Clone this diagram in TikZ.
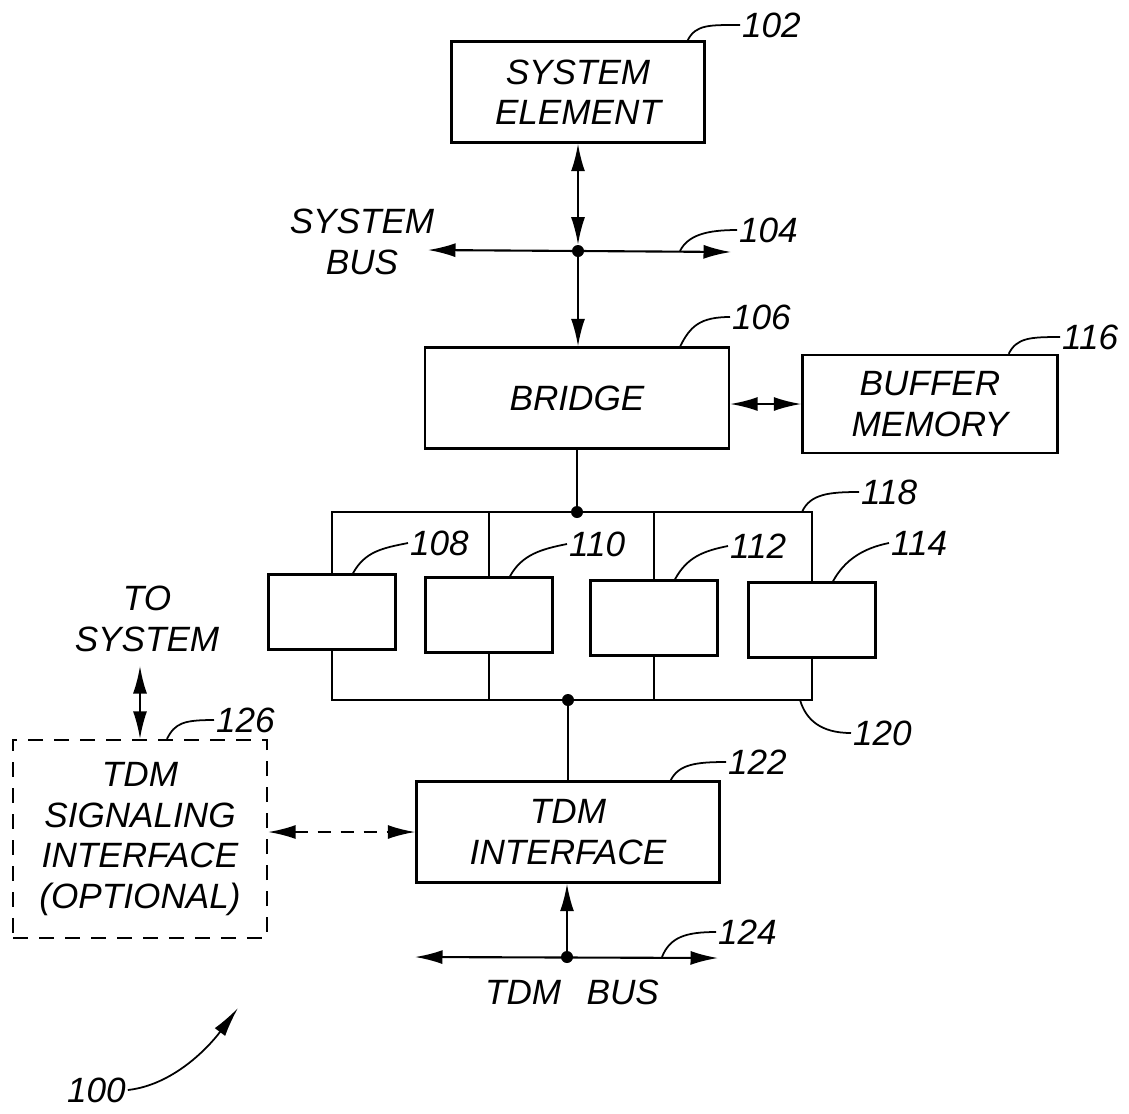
\documentclass[tikz,border=0pt]{standalone}
\usepackage{fontspec}
\setmainfont{Liberation Sans}
\usetikzlibrary{arrows.meta}

\tikzset{
  tip/.tip={Latex[length=5.5mm,width=2.8mm]},
  block/.style={draw,line width=1.4pt,inner sep=0pt,align=center},
  unitbox/.style={block,minimum width=2.54cm,minimum height=1.5cm},
  optbox/.style={draw,line width=1.3pt,dash pattern=on 3mm off 2.2mm,inner sep=0pt,align=center,
    minimum width=5.08cm,minimum height=3.96cm},
  refnum/.style={inner sep=1pt,anchor=west},
  wire/.style={line width=1.2pt},
  twoway/.style={wire,tip-tip},
  lead/.style={line width=1pt},
  joint/.style={circle,fill,inner sep=0pt,minimum size=0.24cm}
}

\begin{document}
\begin{tikzpicture}[x=0.02cm,y=-0.02cm,font=\itshape\fontsize{20}{23}\selectfont]
\useasboundingbox (0,0) rectangle (1129,1113);

% blocks
\node[block,minimum width=5.06cm,minimum height=2.02cm] (sysel) at (578,92) {SYSTEM\\ELEMENT};
\node[block,minimum width=6.08cm,minimum height=2.02cm] (bridge) at (577,398) {BRIDGE};
\node[block,minimum width=5.1cm,minimum height=1.96cm] (buffer) at (930,404) {BUFFER\\MEMORY};
\node[unitbox] (u108) at (332,612) {};
\node[unitbox] (u110) at (489,615) {};
\node[unitbox] (u112) at (654,618) {};
\node[unitbox] (u114) at (812,620) {};
\node[block,minimum width=6.06cm,minimum height=2.02cm] (tdmif) at (568,832) {TDM\\INTERFACE};
\node[optbox] (tdmsig) at (140,839) {TDM\\SIGNALING\\INTERFACE\\(OPTIONAL)};
\node[align=center,inner xsep=0pt,inner ysep=0.28cm] (tosys) at (147,619) {TO\\SYSTEM};

% system bus
\coordinate (sbusL) at (428,250);
\coordinate (sbusR) at (731,252);
\node[joint] (sdot) at (578,251) {};
\draw[twoway] (sbusL) -- (sbusR);
\draw[twoway] (sysel.south) -- (sdot);
\draw[wire,-tip] (sdot) -- (bridge.north -| sdot);
\node[align=center,inner sep=0pt] (sbuslbl) at (362,242) {SYSTEM\\BUS};

\draw[twoway] (bridge.east |- buffer.west) -- (buffer.west);

% buses 118 / 120
\node[joint] (d118) at (577,512) {};
\node[joint] (d120) at (568,700) {};
\draw[wire] (bridge.south) -- (d118.center);
\draw[wire] (u108.north) -- (u108.north |- d118) -- (u114.north |- d118) -- (u114.north);
\draw[wire] (u110.north) -- (u110.north |- d118);
\draw[wire] (u112.north) -- (u112.north |- d118);
\draw[wire] (u108.south) -- (u108.south |- d120) -- (u114.south |- d120) -- (u114.south);
\draw[wire] (u110.south) -- (u110.south |- d120);
\draw[wire] (u112.south) -- (u112.south |- d120);
\draw[wire] (d120.center) -- (tdmif.north -| d120);
\coordinate (c118) at (u114.north |- d118);
\coordinate (c120) at (u114.south |- d120);

% tdm bus
\coordinate (tbusL) at (415,957);
\coordinate (tbusR) at (718,958);
\node[joint] (d124) at (567,957) {};
\draw[twoway] (tbusL) -- (tbusR);
\draw[wire,-tip] (d124) -- (tdmif.south -| d124);
\node[inner sep=0pt] (tbuslbl) at (572,992) {TDM\;\, BUS};

% optional signaling interface
\draw[wire,dash pattern=on 2.6mm off 2mm,tip-tip] (tdmsig.east |- tdmif.west) -- (tdmif.west);
\draw[twoway] (tdmsig.north) -- (tdmsig.north |- tosys.south);

% reference numerals
\node[refnum] (n102) at (740,25) {102};
\node[refnum] (n104) at (737,230) {104};
\node[refnum] (n106) at (730,317) {106};
\node[refnum] (n116) at (1060,337) {116};
\node[refnum] (n118) at (859,492) {118};
\node[refnum] (n108) at (408,543) {108};
\node[refnum] (n110) at (567,544) {110};
\node[refnum] (n112) at (728,546) {112};
\node[refnum] (n114) at (889,543) {114};
\node[refnum] (n120) at (851,733) {120};
\node[refnum] (n122) at (726,762) {122};
\node[refnum] (n124) at (716,932) {124};
\node[refnum] (n126) at (214,720) {126};
\node[refnum] (n100) at (65,1090) {100};

\draw[lead] ([xshift=-0.36cm]sysel.north east) .. controls +(8,-16) and +(-30,0) .. (n102.west);
\draw[lead] ([xshift=2.04cm]sdot.center) .. controls +(8,-16) and +(-30,0) .. (n104.west);
\draw[lead] ([xshift=-1cm]bridge.north east) .. controls +(10,-20) and +(-30,0) .. (n106.west);
\draw[lead] ([xshift=-1cm]buffer.north east) .. controls +(8,-16) and +(-30,0) .. (n116.west);
\draw[lead] ([xshift=-0.2cm]c118) .. controls +(8,-18) and +(-30,0) .. (n118.west);
\foreach \u/\n in {u108/n108,u110/n110,u112/n112,u114/n114}
  \draw[lead] ([xshift=0.42cm]\u.north) .. controls +(12,-22) and +(-25,5) .. (\n.west);
\draw[lead] ([xshift=-0.24cm]c120) .. controls +(6,20) and +(-30,0) .. (n120.west);
\draw[lead] ([xshift=-1cm]tdmif.north east) .. controls +(8,-16) and +(-30,0) .. (n122.west);
\draw[lead] ([xshift=1.9cm]d124.center) .. controls +(8,-20) and +(-30,0) .. (n124.west);
\draw[lead] ([xshift=0.54cm]tdmsig.north) .. controls +(8,-16) and +(-30,0) .. (n126.west);
\coordinate (fig100) at (238,1008);
\draw[lead,-{Latex[length=6mm,width=2.6mm]}] (n100.east) .. controls +(45,-5) and +(-30,40) .. (fig100);
\end{tikzpicture}
\end{document}
